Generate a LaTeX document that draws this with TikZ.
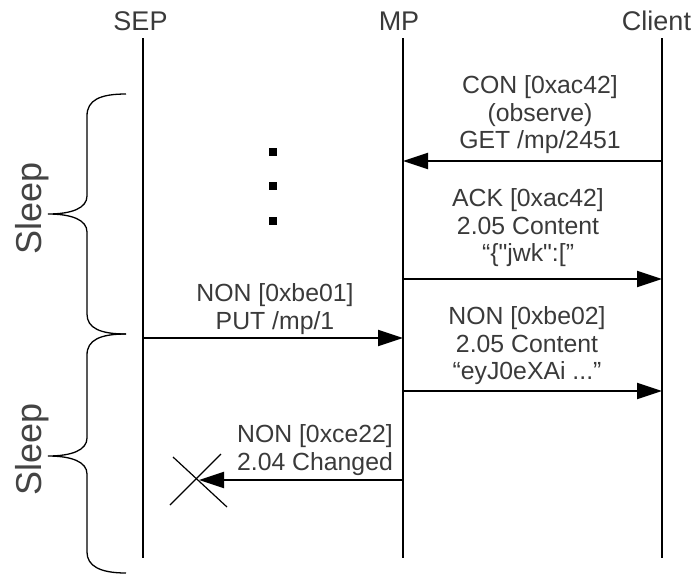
\documentclass[tikz,border=0pt]{standalone}
\usepackage{fontspec}
\setmainfont{Liberation Sans}
\usetikzlibrary{arrows.meta}
\definecolor{txt}{HTML}{3A3A3A}
\definecolor{sleepc}{HTML}{444444}
\newcommand{\msgfont}{\fontsize{24.8}{27.5}\selectfont}
\newcommand{\ttlfont}{\fontsize{27}{30}\selectfont}
\newcommand{\sleepfont}{\fontsize{36}{36}\selectfont}
\newcommand{\sq}{\XeTeXglyph\XeTeXcharglyph"22\relax}
\begin{document}
\begin{tikzpicture}[x=1pt,y=-1pt,
  lbl/.style={text=txt, font=\msgfont, align=center, inner sep=0pt},
  ttl/.style={text=txt, font=\ttlfont, inner sep=0pt},
  msg/.style={line width=2pt, -{Triangle[length=25pt,width=16pt]}},
  life/.style={line width=1.4pt},
  bracec/.style={line width=1.3pt},
  crossl/.style={line width=1.2pt},
  sleeplbl/.style={text=sleepc, font=\sleepfont, rotate=90, inner sep=0pt},
  dotsq/.style={fill=black}]
\useasboundingbox (0,0) rectangle (695,574);
% titles
\node[ttl] (sep) at (140.5,21) {SEP};
\node[ttl] (mp) at (399,21) {MP};
\node[ttl] (cl) at (656.5,21) {Client};
% lifelines
\coordinate (sept) at (143,38); \coordinate (sepb) at (143,558);
\coordinate (mpt) at (403,38); \coordinate (mpb) at (403,558);
\coordinate (clt) at (662,38); \coordinate (clb) at (662,558);
\draw[life] (sept) -- (sepb);
\draw[life] (mpt) -- (mpb);
\draw[life] (clt) -- (clb);
% message 1
\coordinate (c1) at (662,161); \coordinate (m1) at (403,161);
\draw[msg] (c1) -- (m1);
\node[lbl] (l1) at (540,115) {CON [0xac42]\\(observe)\\GET /mp/2451};
% message 2
\coordinate (m2) at (403,279); \coordinate (c2) at (662,279);
\draw[msg] (m2) -- (c2);
\node[lbl] (l2) at (528,228) {ACK [0xac42]\\2.05 Content\\“\{\sq jwk\sq:[”};
% message 3
\coordinate (s3) at (143,338); \coordinate (m3) at (403,338);
\draw[msg] (s3) -- (m3);
\node[lbl] (l3) at (275,309) {NON [0xbe01]\\PUT /mp/1};
% message 4
\coordinate (m4) at (403,391); \coordinate (c4) at (662,391);
\draw[msg] (m4) -- (c4);
\node[lbl] (l4) at (527,346) {NON [0xbe02]\\2.05 Content\\“eyJ0eXAi ...”};
% message 5 (lost)
\coordinate (m5) at (403,480); \coordinate (x5) at (199,480);
\draw[msg] (m5) -- (x5);
\node[lbl] (l5) at (315,450) {NON [0xce22]\\2.04 Changed};
\coordinate (xa) at (173,457); \coordinate (xb) at (227,507);
\coordinate (xc) at (221,454); \coordinate (xd) at (170,505);
\draw[crossl] (xa) -- (xb);
\draw[crossl] (xc) -- (xd);
% dots
\fill[dotsq] (269,148) rectangle (277,156);
\fill[dotsq] (269,182) rectangle (277,190);
\fill[dotsq] (269,217) rectangle (277,225);
% braces
\draw[bracec] (126,94) .. controls (100,94) and (87,100) .. (87,116) -- (87,196)
  .. controls (87,208) and (72,214) .. (48,214)
  .. controls (72,214) and (87,220) .. (87,232) -- (87,314)
  .. controls (87,328) and (100,334) .. (126,334);
\draw[bracec] (126,334) .. controls (100,334) and (87,340) .. (87,355) -- (87,438)
  .. controls (87,450) and (72,456) .. (48,456)
  .. controls (72,456) and (87,462) .. (87,474) -- (87,552)
  .. controls (87,566) and (100,573) .. (126,573);
% sleep labels
\node[sleeplbl] (sl1) at (32,208) {Sleep};
\node[sleeplbl] (sl2) at (32,449) {Sleep};
\end{tikzpicture}
\end{document}
